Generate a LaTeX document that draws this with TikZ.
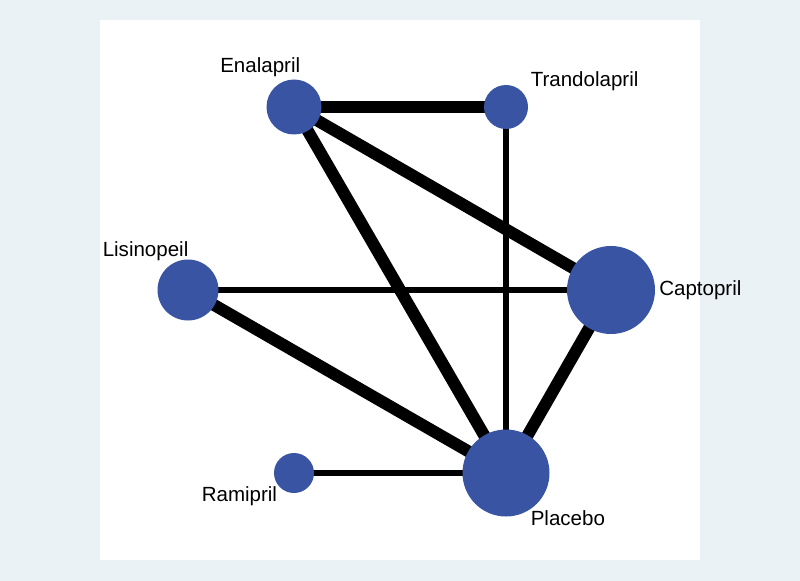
\documentclass[tikz,border=0pt]{standalone}
\usepackage{fontspec}
\setmainfont{Liberation Sans}
\usetikzlibrary{backgrounds}
\definecolor{outerbg}{RGB}{234,242,246}
\definecolor{nodeblue}{RGB}{58,84,164}
\tikzset{
  drug/.style={circle, fill=nodeblue, draw=none, inner sep=0pt},
  lab/.style={anchor=base west, inner sep=0pt, font=\fontsize{15.4pt}{18pt}\selectfont},
  thickedge/.style={line width=9pt, black},
  thinedge/.style={line width=4.2pt, black}
}
\begin{document}
\begin{tikzpicture}[x=0.75pt, y=-0.75pt]
\useasboundingbox (0,0) rectangle (800,581);
\node[drug, minimum size=55*0.75pt] (ena) at (294,107) {};
\node[drug, minimum size=44*0.75pt] (tra) at (506,107) {};
\node[drug, minimum size=88*0.75pt] (cap) at (611,290) {};
\node[drug, minimum size=61*0.75pt] (lis) at (188,290) {};
\node[drug, minimum size=40*0.75pt] (ram) at (294,473) {};
\node[drug, minimum size=87*0.75pt] (pla) at (506,473) {};
\begin{scope}[on background layer]
\fill[outerbg] (0,0) rectangle (800,581);
\fill[white] (100,20) rectangle (700,560);
\draw[thickedge] (ena.center) -- (tra.center);
\draw[thickedge] (ena.center) -- (cap.center);
\draw[thickedge] (ena.center) -- (pla.center);
\draw[thinedge] (tra.center) -- (pla.center);
\draw[thinedge] (lis.center) -- (cap.center);
\draw[thickedge] (lis.center) -- (pla.center);
\draw[thickedge] (cap.center) -- (pla.center);
\draw[thinedge] (ram.center) -- (pla.center);
\end{scope}
\node[lab] (lena) at (220,72.5) {Enalapril};
\node[lab] (ltra) at (530.5,87) {Trandolapril};
\node[lab] (lcap) at (659,296) {Captopril};
\node[lab] (llis) at (102.5,256.5) {Lisinopeil};
\node[lab] (lram) at (201.5,501.5) {Ramipril};
\node[lab] (lpla) at (530.5,525) {Placebo};
\end{tikzpicture}
\end{document}
